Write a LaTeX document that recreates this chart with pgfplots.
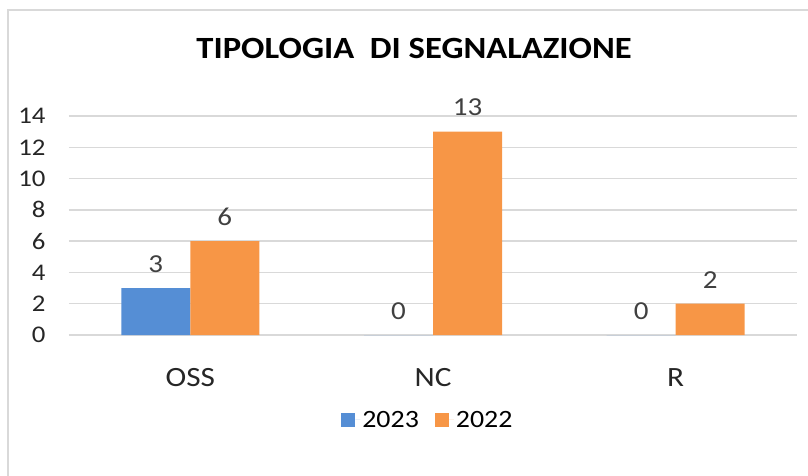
\documentclass[border=0pt]{standalone}
\usepackage{pgfplots}
\pgfplotsset{compat=1.18}
\usepackage{fontspec}
\setmainfont{Carlito}[FakeStretch=1.12]
\definecolor{b23}{HTML}{558ED5}
\definecolor{o22}{HTML}{F79646}
\definecolor{gridc}{HTML}{D9D9D9}
\definecolor{txt}{HTML}{404040}
\begin{document}
\begin{tikzpicture}
\begin{axis}[
  scale only axis, width=728bp, height=219bp,
  xmin=-0.5, xmax=2.5, ymin=0, ymax=14,
  ybar=0pt, bar width=69bp,
  xtick={0,1,2}, xticklabels={OSS,NC,R},
  ytick={0,2,...,14},
  ymajorgrids, grid style={gridc, line width=1.5bp},
  axis line style={draw=none},
  major tick length=0pt,
  /pgf/number format/assume math mode=true,
  yticklabel style={font=\fontsize{24}{28}\selectfont, text=black!85, xshift=-20bp},
  xticklabel style={font=\fontsize{28}{32}\selectfont, text=black!85, yshift=-30bp},
  title={TIPOLOGIA\ \ DI SEGNALAZIONE},
  title style={at={(0.474,1)}, anchor=center, yshift=62bp, font=\bfseries\fontsize{31}{36}\selectfont},
  nodes near coords,
  every node near coord/.append style={font=\fontsize{26}{30}\selectfont, text=txt, yshift=12bp},
  legend style={at={(0.493,-0.388)}, anchor=center, draw=none, legend columns=2,
    font=\fontsize{25}{29}\selectfont, /tikz/every even column/.append style={column sep=14bp}},
  legend image code/.code={\fill[#1] (0bp,-7bp) rectangle (14bp,7bp); \path (14bp,0bp) -- (19bp,0bp);},
]
\addplot[fill=b23, draw=none] coordinates {(0,3) (1,0) (2,0)};
\addplot[fill=o22, draw=none] coordinates {(0,6) (1,13) (2,2)};
\legend{2023,2022}
\end{axis}
\draw[gridc, line width=2bp] ([shift={(-61bp,-200bp)}]current axis.south west) |- ([shift={(100bp,106bp)}]current axis.north east);
\pgfresetboundingbox
\path ([shift={(-69bp,-141bp)}]current axis.south west) rectangle ([shift={(11bp,116bp)}]current axis.north east);
\end{tikzpicture}
\end{document}
